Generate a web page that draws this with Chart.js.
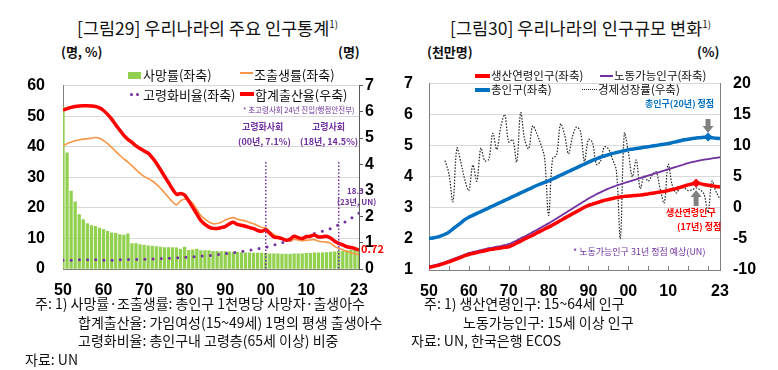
<!DOCTYPE html>
<html><head><meta charset="utf-8">
<script src="https://cdn.jsdelivr.net/npm/chart.js@4"></script>
<style>
body{margin:0;background:#fff;width:778px;height:370px;overflow:hidden;position:relative;font-family:"Noto Sans CJK KR",sans-serif;}
.t{position:absolute;white-space:nowrap;color:#111;line-height:1;}
.b{font-weight:bold;}
canvas{position:absolute;}
.sw{position:absolute;}
sup{font-size:0.55em;vertical-align:0;position:relative;top:-0.7em;}
</style></head><body>
<!-- titles -->
<div class="t" style="left:77px;top:19px;font-size:17.5px;">[그림29] 우리나라의 주요 인구통계<sup>1)</sup></div>
<div class="t" style="left:450px;top:19px;font-size:17.5px;">[그림30] 우리나라의 인구규모 변화<sup>1)</sup></div>
<div class="t b" style="left:61px;top:45px;font-size:13px;">(명, %)</div>
<div class="t b" style="left:338px;top:45px;font-size:13px;">(명)</div>
<div class="t b" style="left:427px;top:45px;font-size:13px;">(천만명)</div>
<div class="t b" style="left:697px;top:45px;font-size:13px;">(%)</div>

<canvas id="c1" width="390" height="242" style="left:0;top:58px"></canvas>
<canvas id="c2" width="388" height="242" style="left:390px;top:58px"></canvas>

<!-- legend 1 -->
<div class="sw" style="left:128px;top:72px;width:13px;height:7px;background:#92d050"></div>
<div class="t" style="left:143px;top:68px;font-size:13px;">사망률(좌축)</div>
<div class="sw" style="left:240px;top:72px;width:13px;height:2px;background:#f79646"></div>
<div class="t" style="left:254px;top:68px;font-size:13px;">조출생률(좌축)</div>
<div class="sw" style="left:130px;top:93px;width:3px;height:3px;border-radius:50%;background:#7030a0"></div>
<div class="sw" style="left:136px;top:93px;width:3px;height:3px;border-radius:50%;background:#7030a0"></div>
<div class="t" style="left:143px;top:88px;font-size:13px;">고령화비율(좌축)</div>
<div class="sw" style="left:240px;top:92px;width:14px;height:4px;background:#ff0000"></div>
<div class="t" style="left:255px;top:88px;font-size:13px;">합계출산율(우축)</div>

<!-- annotations 1 -->
<div class="t" style="left:243px;top:106px;font-size:7.5px;color:#7030a0;">* 초고령사회 24년 진입(행정안전부)</div>
<div class="t b" style="left:242px;top:122px;font-size:9px;color:#7030a0;">고령화사회</div>
<div class="t b" style="left:238px;top:137px;font-size:9px;color:#7030a0;">(00년, 7.1%)</div>
<div class="t b" style="left:312px;top:122px;font-size:9px;color:#7030a0;">고령사회</div>
<div class="t b" style="left:300px;top:137px;font-size:9px;color:#7030a0;">(18년, 14.5%)</div>
<div class="t b" style="left:347px;top:187px;font-size:8px;color:#7030a0;">18.3</div>
<div class="t b" style="left:337px;top:198px;font-size:8px;color:#7030a0;">(23년, UN)</div>
<div class="t b" style="left:361px;top:243px;font-size:11px;color:#ff0000;">0.72</div>

<!-- legend 2 -->
<div class="sw" style="left:475px;top:74px;width:15px;height:4px;background:#ff0000"></div>
<div class="t" style="left:491px;top:70px;font-size:11.5px;">생산연령인구(좌축)</div>
<div class="sw" style="left:600px;top:75px;width:13px;height:2px;background:#7030a0"></div>
<div class="t" style="left:614px;top:70px;font-size:11.5px;">노동가능인구(좌축)</div>
<div class="sw" style="left:475px;top:88px;width:15px;height:4px;background:#0070c0"></div>
<div class="t" style="left:491px;top:84px;font-size:11.5px;">총인구(좌축)</div>
<div class="sw" style="left:582px;top:89px;width:15px;height:0;border-top:1.5px dotted #222"></div>
<div class="t" style="left:598px;top:84px;font-size:11.5px;">경제성장률(우축)</div>

<!-- annotations 2 -->
<div class="t b" style="left:645px;top:99px;font-size:9px;color:#0070c0;">총인구(20년) 정점</div>
<div class="t b" style="left:666px;top:208px;font-size:9px;color:#ff0000;">생산연령인구</div>
<div class="t b" style="left:677px;top:222px;font-size:9px;color:#ff0000;">(17년) 정점</div>
<div class="t" style="left:573px;top:247px;font-size:9px;color:#7030a0;">* 노동가능인구 31년 정점 예상(UN)</div>

<!-- footnotes -->
<div class="t" style="left:35px;top:296px;font-size:14px;">주: 1) 사망률·조출생률: 총인구 1천명당 사망자·출생아수</div>
<div class="t" style="left:78px;top:315px;font-size:14px;">합계출산율: 가임여성(15~49세) 1명의 평생 출생아수</div>
<div class="t" style="left:78px;top:333px;font-size:14px;">고령화비율: 총인구내 고령층(65세 이상) 비중</div>
<div class="t" style="left:25px;top:352px;font-size:14px;">자료: UN</div>
<div class="t" style="left:424px;top:296px;font-size:14px;">주: 1) 생산연령인구: 15~64세 인구</div>
<div class="t" style="left:463px;top:315px;font-size:14px;">노동가능인구: 15세 이상 인구</div>
<div class="t" style="left:411px;top:333px;font-size:14px;">자료: UN, 한국은행 ECOS</div>

<script>
// ---------------- data ----------------
const years = [1950,1951,1952,1953,1954,1955,1956,1957,1958,1959,
1960,1961,1962,1963,1964,1965,1966,1967,1968,1969,
1970,1971,1972,1973,1974,1975,1976,1977,1978,1979,
1980,1981,1982,1983,1984,1985,1986,1987,1988,1989,
1990,1991,1992,1993,1994,1995,1996,1997,1998,1999,
2000,2001,2002,2003,2004,2005,2006,2007,2008,2009,
2010,2011,2012,2013,2014,2015,2016,2017,2018,2019,
2020,2021,2022,2023];
const xTickYears = [1950,1960,1970,1980,1990,2000,2010,2023];
const xTickLabels = ['50','60','70','80','90','00','10','23'];
const minorTickYears = [1955,1960,1965,1970,1975,1980,1985,1990,1995,2000,2005,2010,2015,2020];

// Figure 29
const deathRate = [53,38,25.5,22,17.8,16.2,14.9,14.2,14.0,13.4,
12.9,12.3,11.8,11.7,11.3,11.1,11.5,8.3,8.3,8.0,
7.8,7.6,7.5,7.3,7.2,7.0,7.0,7.0,6.9,6.5,
7.2,6.1,6.3,6.5,6.0,6.0,6.0,5.8,5.8,5.7,
5.7,5.6,5.5,5.5,5.4,5.3,5.3,5.2,5.2,5.2,
5.1,5.0,5.0,5.0,4.9,4.9,4.9,5.0,5.0,5.0,
5.1,5.1,5.3,5.3,5.3,5.4,5.5,5.6,5.8,5.8,
6.0,6.2,7.2,6.8];
const birthRate = [40.3,41.0,41.5,42.0,42.2,42.5,42.6,42.8,43.0,42.8,
42.0,41.0,39.8,38.5,37.2,36.0,35.0,33.8,32.5,31.3,
30.3,29.6,28.8,27.8,26.5,25.0,23.5,22.0,21.0,22.3,
22.8,22.5,21.5,19.5,17.5,16.3,15.4,14.8,14.9,15.3,
16.0,16.5,16.8,16.3,16.0,15.7,15.2,14.8,14.2,13.6,
13.5,12.3,11.2,10.6,10.1,9.5,9.3,9.7,9.5,9.2,
9.4,9.5,9.6,9.1,8.9,8.8,8.4,7.4,6.8,6.3,
5.7,5.3,5.0,4.6];
const agingRatio = [2.9,2.9,2.9,2.9,3.0,3.0,3.0,3.0,3.0,2.9,
2.9,2.9,2.9,2.9,3.0,3.1,3.1,3.1,3.1,3.1,
3.2,3.2,3.3,3.3,3.4,3.5,3.5,3.6,3.7,3.7,
3.8,3.9,4.0,4.1,4.2,4.3,4.4,4.5,4.7,4.8,
5.0,5.2,5.3,5.5,5.7,5.9,6.1,6.4,6.6,6.9,
7.1,7.5,7.8,8.2,8.6,8.9,9.3,9.7,10.0,10.4,
10.8,11.2,11.6,12.0,12.4,12.8,13.2,13.8,14.5,15.1,
15.7,16.6,17.4,18.3];
const fertility = [6.07,6.12,6.17,6.2,6.22,6.23,6.23,6.22,6.2,6.15,
6.05,5.9,5.72,5.5,5.3,5.1,4.95,4.83,4.7,4.6,
4.5,4.42,4.25,4.05,3.8,3.55,3.3,3.05,2.85,2.88,
2.82,2.6,2.35,2.1,1.85,1.7,1.6,1.55,1.55,1.58,
1.62,1.72,1.78,1.7,1.67,1.63,1.58,1.54,1.47,1.44,
1.5,1.36,1.22,1.2,1.16,1.1,1.14,1.25,1.2,1.16,
1.23,1.25,1.3,1.22,1.23,1.25,1.18,1.06,0.98,0.92,
0.85,0.82,0.78,0.72];
const agingMarkYears = [2000, 2018];

// Figure 30
const totalPop = [2.02,2.03,2.06,2.10,2.15,2.22,2.32,2.42,2.52,2.62,
2.70,2.76,2.82,2.88,2.94,3.00,3.06,3.12,3.18,3.24,
3.30,3.36,3.42,3.48,3.54,3.60,3.66,3.72,3.77,3.82,
3.87,3.93,3.99,4.05,4.11,4.17,4.23,4.29,4.35,4.41,
4.47,4.53,4.58,4.63,4.67,4.71,4.75,4.78,4.81,4.84,
4.87,4.89,4.91,4.93,4.95,4.97,4.99,5.01,5.03,5.05,
5.07,5.10,5.13,5.16,5.19,5.21,5.23,5.25,5.26,5.27,
5.28,5.26,5.24,5.23];
const workingAgePop = [1.09,1.11,1.14,1.18,1.22,1.26,1.31,1.36,1.41,1.46,
1.50,1.53,1.56,1.59,1.62,1.65,1.67,1.69,1.71,1.73,
1.75,1.80,1.87,1.93,2.00,2.06,2.12,2.19,2.25,2.32,
2.38,2.45,2.52,2.59,2.67,2.74,2.81,2.88,2.95,3.02,
3.08,3.12,3.16,3.20,3.24,3.27,3.30,3.33,3.35,3.37,
3.38,3.39,3.40,3.41,3.43,3.45,3.47,3.49,3.51,3.53,
3.56,3.59,3.62,3.66,3.70,3.74,3.77,3.80,3.78,3.75,
3.73,3.71,3.69,3.67];
const laborPop = [1.12,1.14,1.17,1.21,1.25,1.30,1.35,1.40,1.45,1.50,
1.55,1.58,1.61,1.64,1.67,1.70,1.72,1.75,1.77,1.80,
1.83,1.89,1.95,2.02,2.08,2.15,2.22,2.29,2.36,2.43,
2.50,2.58,2.66,2.74,2.82,2.90,2.98,3.06,3.14,3.22,
3.30,3.37,3.44,3.50,3.56,3.62,3.67,3.72,3.76,3.80,
3.84,3.88,3.92,3.96,4.00,4.04,4.08,4.12,4.16,4.20,
4.24,4.28,4.32,4.36,4.40,4.44,4.47,4.50,4.53,4.55,
4.57,4.59,4.61,4.63];
const gdpGrowth = [null,null,null,null,7.6,5.5,1.0,9.6,7.3,4.5,
2.8,6.9,4.3,9.6,7.6,7.8,12.0,9.4,13.0,15.0,
10.6,11.0,7.4,15.3,11.0,9.5,13.2,12.0,10.3,8.0,
-1.2,7.9,8.5,13.5,11.8,8.7,11.5,13.0,12.3,7.5,
11.0,10.5,7.0,7.5,9.8,9.5,7.9,6.0,-4.9,12.0,
9.0,5.0,7.7,3.1,5.2,4.3,5.3,5.8,3.0,0.8,
7.0,3.7,2.4,3.2,3.2,2.8,2.9,3.2,2.9,2.2,
-0.7,4.3,2.6,1.4];
const totalPopPeakYear = 2020;
const workingPeakYear = 2017;

// ---------------- helpers ----------------
const pts = (xs, ys) => xs.map((x, i) => ({x: x, y: ys[i]}));
const tickFont = {family: '"Liberation Sans", Arial, sans-serif', size: 16, weight: 'bold'};
const xLabel = v => { const i = xTickYears.indexOf(v); return i >= 0 ? xTickLabels[i] : ''; };

Chart.defaults.animation = false;

// ---------------- chart 1 ----------------
const vLinesPlugin = {
  id: 'vLines',
  afterDatasetsDraw(chart) {
    const {ctx, scales: {x, y}} = chart;
    ctx.save();
    ctx.strokeStyle = '#7030a0';
    ctx.lineWidth = 1.5;
    ctx.setLineDash([1.5, 2]);
    agingMarkYears.forEach(yr => {
      const px = x.getPixelForValue(yr);
      ctx.beginPath();
      ctx.moveTo(px, y.getPixelForValue(35));
      ctx.lineTo(px, y.getPixelForValue(0));
      ctx.stroke();
    });
    ctx.restore();
  }
};

new Chart(document.getElementById('c1'), {
  type: 'bar',
  data: {
    datasets: [
      {type: 'line', label: '합계출산율(우축)', data: pts(years, fertility), yAxisID: 'y1',
       borderColor: '#ff0000', borderWidth: 3.5, pointRadius: 0, tension: 0.3, order: 0},
      {type: 'line', label: '조출생률(좌축)', data: pts(years, birthRate), yAxisID: 'y',
       borderColor: '#f79646', borderWidth: 1.6, pointRadius: 0, tension: 0.3, order: 1},
      {type: 'line', label: '고령화비율(좌축)', data: pts(years, agingRatio), yAxisID: 'y',
       borderColor: '#7030a0', borderWidth: 3, borderDash: [0, 8.2], borderCapStyle: 'round',
       pointRadius: 0, tension: 0.3, order: 2},
      {type: 'bar', label: '사망률(좌축)', data: pts(years, deathRate), yAxisID: 'y',
       backgroundColor: '#92d050', barThickness: 2.6, order: 3}
    ]
  },
  options: {
    responsive: false,
    animation: false,
    layout: {padding: {top: 8, left: 0, right: 0, bottom: 0}},
    plugins: {legend: {display: false}, tooltip: {enabled: false}},
    scales: {
      x: {
        type: 'linear', min: 1950, max: 2023, offset: false,
        grid: {display: false, drawTicks: false, offset: false},
        border: {display: true, color: '#808080'},
        ticks: {font: tickFont, color: '#000', padding: 12, maxRotation: 0, autoSkip: false, callback: v => xLabel(v)},
        afterBuildTicks: s => { s.ticks = xTickYears.map(v => ({value: v})); },
        afterFit: s => { s.height = 31; }
      },
      y: {
        position: 'left', min: 0, max: 60,
        ticks: {stepSize: 10, font: tickFont, color: '#000', padding: 18},
        grid: {color: '#d9d9d9', drawTicks: false},
        border: {display: true, color: '#808080'},
        afterFit: s => { s.width = 63; }
      },
      y1: {
        position: 'right', min: 0, max: 7,
        ticks: {stepSize: 1, font: tickFont, color: '#000', padding: 2},
        grid: {drawOnChartArea: false, drawTicks: true, tickLength: 4, color: '#595959'},
        border: {display: true, color: '#595959'},
        afterFit: s => { s.width = 31; }
      }
    }
  },
  plugins: [vLinesPlugin]
});

// ---------------- chart 2 ----------------
const decoPlugin = {
  id: 'deco2',
  afterDatasetsDraw(chart) {
    const {ctx, scales: {x, y}, chartArea} = chart;
    ctx.save();
    ctx.strokeStyle = '#808080';
    ctx.lineWidth = 1;
    minorTickYears.forEach(v => {
      const px = Math.round(x.getPixelForValue(v)) + 0.5;
      ctx.beginPath();
      ctx.moveTo(px, chartArea.bottom);
      ctx.lineTo(px, chartArea.bottom - 4);
      ctx.stroke();
    });
    ctx.fillStyle = '#808080';
    const arrow = (px, tipY, dir, len) => {
      const head = 7;
      const tail = tipY - dir * len;
      const neck = tipY - dir * head;
      ctx.beginPath();
      ctx.moveTo(px - 2.5, tail);
      ctx.lineTo(px + 2.5, tail);
      ctx.lineTo(px + 2.5, neck);
      ctx.lineTo(px + 5.5, neck);
      ctx.lineTo(px, tipY);
      ctx.lineTo(px - 5.5, neck);
      ctx.lineTo(px - 2.5, neck);
      ctx.closePath();
      ctx.fill();
    };
    const iT = years.indexOf(totalPopPeakYear);
    const pxT = x.getPixelForValue(totalPopPeakYear);
    arrow(pxT, y.getPixelForValue(totalPop[iT]) - 4, 1, 14);
    const iW = years.indexOf(workingPeakYear);
    const pxW = x.getPixelForValue(workingPeakYear);
    arrow(pxW, y.getPixelForValue(workingAgePop[iW]) + 7, -1, 16);
    ctx.restore();
  }
};

new Chart(document.getElementById('c2'), {
  type: 'line',
  data: {
    datasets: [
      {label: '생산연령인구(좌축)', data: pts(years, workingAgePop), yAxisID: 'y',
       borderColor: '#ff0000', borderWidth: 3.5, tension: 0.3, order: 0,
       pointStyle: 'rectRot', backgroundColor: '#ff0000', borderJoinStyle: 'round',
       pointRadius: c => (c.raw && c.raw.x === workingPeakYear) ? 4.5 : 0, pointBorderWidth: 0},
      {label: '총인구(좌축)', data: pts(years, totalPop), yAxisID: 'y',
       borderColor: '#0070c0', borderWidth: 3.5, tension: 0.3, order: 1,
       pointStyle: 'rectRot', backgroundColor: '#0070c0',
       pointRadius: c => (c.raw && c.raw.x === totalPopPeakYear) ? 4.5 : 0, pointBorderWidth: 0},
      {label: '노동가능인구(좌축)', data: pts(years, laborPop), yAxisID: 'y',
       borderColor: '#7030a0', borderWidth: 1.8, tension: 0.3, pointRadius: 0, order: 2},
      {label: '경제성장률(우축)', data: pts(years, gdpGrowth), yAxisID: 'y1',
       borderColor: '#222', borderWidth: 1.2, borderDash: [1.5, 1.5], tension: 0.35,
       pointRadius: 0, spanGaps: false, order: 3}
    ]
  },
  options: {
    responsive: false,
    animation: false,
    layout: {padding: {top: 8, left: 0, right: 0, bottom: 0}},
    plugins: {legend: {display: false}, tooltip: {enabled: false}},
    scales: {
      x: {
        type: 'linear', min: 1950, max: 2023, offset: false,
        grid: {display: false, drawTicks: false},
        border: {display: true, color: '#808080'},
        ticks: {font: tickFont, color: '#000', padding: 12, maxRotation: 0, autoSkip: false, callback: v => xLabel(v)},
        afterBuildTicks: s => { s.ticks = xTickYears.map(v => ({value: v})); },
        afterFit: s => { s.height = 30; }
      },
      y: {
        position: 'left', min: 1, max: 7,
        ticks: {stepSize: 1, font: tickFont, color: '#000', padding: 16},
        grid: {color: '#d9d9d9', drawTicks: false},
        border: {display: true, color: '#808080'},
        afterFit: s => { s.width = 39; }
      },
      y1: {
        position: 'right', min: -10, max: 20,
        ticks: {stepSize: 5, font: tickFont, color: '#000', padding: 13},
        grid: {drawOnChartArea: false, drawTicks: false},
        border: {display: true, color: '#808080'},
        afterFit: s => { s.width = 58; }
      }
    }
  },
  plugins: [decoPlugin]
});
</script>
</body></html>
